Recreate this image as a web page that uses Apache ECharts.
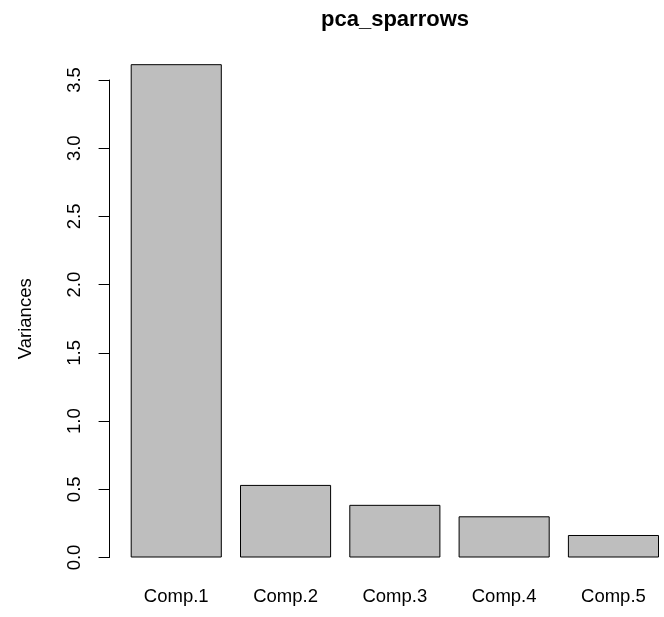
<!DOCTYPE html>
<html>
<head>
<meta charset="utf-8">
<script src="https://cdn.jsdelivr.net/npm/echarts@6/dist/echarts.min.js"></script>
<style>
html,body{margin:0;padding:0;background:#fff;}
#chart{width:664px;height:617px;}
</style>
</head>
<body>
<div id="chart"></div>
<script>
const chartTitle = 'pca_sparrows';
const categories = ['Comp.1', 'Comp.2', 'Comp.3', 'Comp.4', 'Comp.5'];
const variances = [3.616, 0.532, 0.386, 0.302, 0.165];
const yAxisName = 'Variances';

const FONT = '"Liberation Sans", Arial, Helvetica, sans-serif';
const chart = echarts.init(document.getElementById('chart'), null, {renderer: 'canvas'});
chart.setOption({
  backgroundColor: '#ffffff',
  animation: false,
  title: {
    text: chartTitle,
    left: 390,
    top: 4,
    textAlign: 'center',
    textStyle: {fontFamily: FONT, fontSize: 22, fontWeight: 'bold', color: '#000'}
  },
  grid: {left: 121.6, top: 80, width: 546.5, height: 477.5, containLabel: false, outerBoundsMode: 'none'},
  xAxis: {
    type: 'category',
    data: categories,
    axisLine: {show: false},
    axisTick: {show: false},
    axisLabel: {fontFamily: FONT, fontSize: 18.5, color: '#000', margin: 30, interval: 0},
    splitLine: {show: false}
  },
  yAxis: {
    type: 'value',
    min: 0,
    max: 3.5,
    interval: 0.5,
    offset: 12,
    name: yAxisName,
    nameLocation: 'middle',
    nameGap: 74,
    nameTextStyle: {fontFamily: FONT, fontSize: 18.5, color: '#000'},
    axisLine: {show: true, lineStyle: {color: '#000', width: 1}},
    axisTick: {show: true, length: 11, lineStyle: {color: '#000', width: 1}},
    axisLabel: {
      fontFamily: FONT, fontSize: 18.5, color: '#000', rotate: 90, margin: 25,
      formatter: v => v.toFixed(1)
    },
    splitLine: {show: false}
  },
  series: [{
    type: 'bar',
    data: variances,
    barWidth: 91.1,
    clip: false,
    itemStyle: {color: '#BEBEBE', borderColor: '#000', borderWidth: 1}
  }]
});
</script>
</body>
</html>
